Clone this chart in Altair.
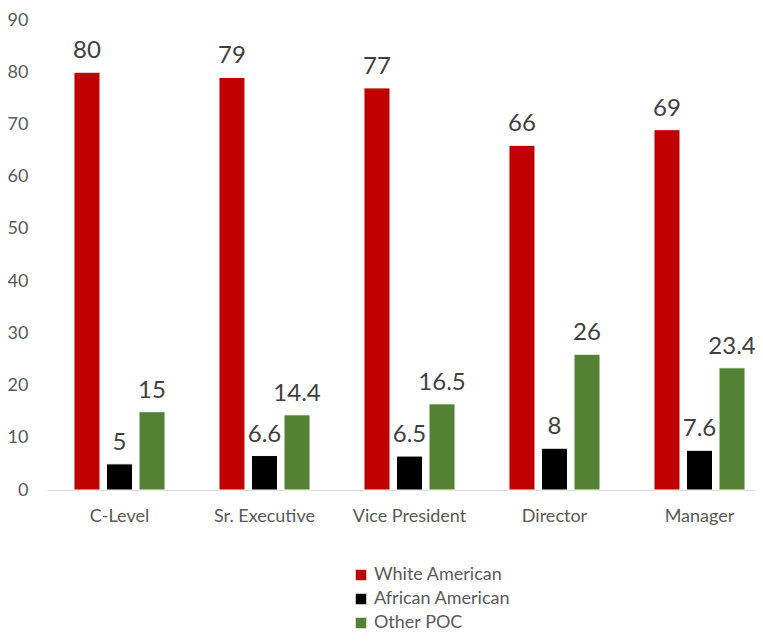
import altair as alt
import pandas as pd

categories = ["C-Level", "Sr. Executive", "Vice President", "Director", "Manager"]
series = ["White American", "African American", "Other POC"]
white = [80, 79, 77, 66, 69]
african = [5, 6.6, 6.5, 8, 7.6]
other = [15, 14.4, 16.5, 26, 23.4]
colors = ["#C00000", "#000000", "#548235"]
y_ticks = [0, 10, 20, 30, 40, 50, 60, 70, 80, 90]

rows = []
for i, c in enumerate(categories):
    for s, vals in zip(series, [white, african, other]):
        rows.append({"cat": c, "series": s, "value": vals[i], "label": f"{vals[i]:g}"})
df = pd.DataFrame(rows)

FONT = "Lato"

x = alt.X("cat:N", sort=categories, title=None,
          scale=alt.Scale(paddingInner=0, paddingOuter=0, range=[0, 725]),
          axis=alt.Axis(labelAngle=0, labelFontSize=18, labelColor="#595959", labelFont=FONT,
                        ticks=False, domainColor="#D9D9D9", domainWidth=1, labelPadding=17))
xo = alt.XOffset("series:N", sort=series,
                 scale=alt.Scale(paddingInner=0.2, paddingOuter=0.83))
y = alt.Y("value:Q", title=None,
          scale=alt.Scale(domain=[0, 90], nice=False),
          axis=alt.Axis(values=y_ticks, grid=False, domain=False, ticks=False,
                        labelFontSize=18, labelColor="#595959", labelFont=FONT, labelPadding=19))
color = alt.Color("series:N", sort=series, title=None,
                  scale=alt.Scale(domain=series, range=colors),
                  legend=alt.Legend(orient="none", legendX=305, legendY=546, direction="vertical",
                                    symbolType="square", symbolSize=110, symbolStrokeWidth=0,
                                    labelFontSize=18, labelColor="#595959", labelFont=FONT,
                                    rowPadding=6, symbolOffset=0, labelOffset=4))

bars = alt.Chart(df).mark_bar(stroke="white", strokeWidth=1).encode(x=x, xOffset=xo, y=y, color=color)
text = alt.Chart(df).mark_text(baseline="bottom", dy=-9, fontSize=24, color="#404040", font=FONT).encode(
    x=x, xOffset=xo, y=y, text="label:N")

chart = alt.layer(bars, text).properties(
    width=708, height=470,
    autosize=alt.AutoSizeParams(type="none"),
    padding={"left": 39, "top": 12, "right": 0, "bottom": 150},
).configure_view(stroke=None)

chart.save("out.html", embed_options={"renderer": "svg", "actions": False})
